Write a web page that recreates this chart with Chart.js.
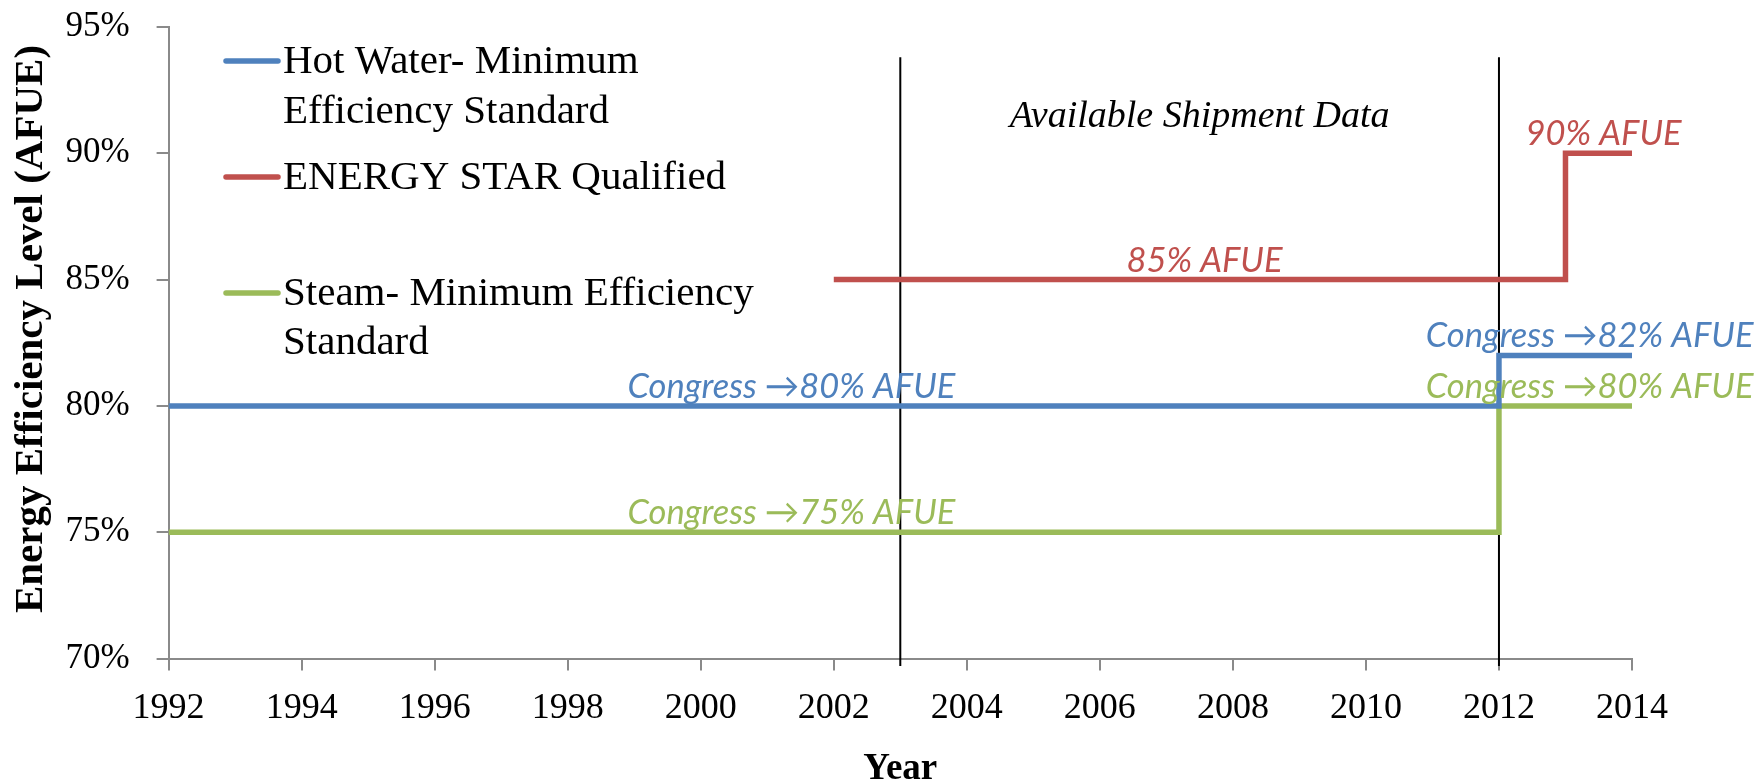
<!DOCTYPE html>
<html>
<head>
<meta charset="utf-8">
<title>Boiler AFUE levels</title>
<script src="https://cdn.jsdelivr.net/npm/chart.js@4.4.1/dist/chart.umd.min.js"></script>
<style>
  html, body { margin: 0; padding: 0; background: #fff; }
  #wrap { width: 1762px; height: 784px; position: relative; }
</style>
</head>
<body>
<div id="wrap"><canvas id="afueChart"></canvas></div>
<script>
// each series: years where a level starts (last one closes the line) and the level in % AFUE
const hotWaterYears = [1992, 2012, 2014];
const hotWaterLevels = [80, 82, 82];
const energyStarYears = [2002, 2013, 2014];
const energyStarLevels = [85, 90, 90];
const steamYears = [1992, 2012, 2014];
const steamLevels = [75, 80, 80];

const seriesNames = [
    ['Hot Water- Minimum', 'Efficiency Standard'],
    ['ENERGY STAR Qualified'],
    ['Steam- Minimum Efficiency', 'Standard']
];
const seriesColors = ['#4F81BD', '#C0504D', '#9BBB59'];

// window with shipment data (two vertical markers)
const shipmentYears = [2003, 2012];
const shipmentSpan = [93.8, 69.7];
const shipmentLabel = 'Available Shipment Data';
const shipmentLabelLevel = 91.05;

// level labels: text, start year, level of the line they sit on
const noteTexts = ['Congress \u219280% AFUE', 'Congress \u219275% AFUE', '85% AFUE', '90% AFUE', 'Congress \u219282% AFUE', 'Congress \u219280% AFUE'];
const noteYears = [1998.9, 1998.9, 2006.4, 2012.4, 2010.9, 2010.9];
const noteLevels = [80, 75, 85, 90, 82, 80];
const noteSeries = [0, 2, 1, 1, 0, 2];

const yTitle = 'Energy Efficiency Level (AFUE)';
const yMin = 70, yMax = 95, yStep = 5;
const xMin = 1992, xMax = 2014, xStep = 2;

const SERIF = "'Palatino Linotype', 'Book Antiqua', Palatino, 'Liberation Serif', serif";
const NOTE_FONT = "italic 34.5px Lato, 'Open Sans', sans-serif";

function toPoints(years, levels) {
    return years.map((y, i) => ({ x: y, y: levels[i] }));
}

// legend, axis title and labels drawn on the canvas
const notesPlugin = {
    id: 'notes',
    afterDatasetsDraw(chart) {
        const ctx = chart.ctx;
        const xs = chart.scales.x, ys = chart.scales.y;
        ctx.save();

        ctx.font = NOTE_FONT;
        ctx.textAlign = 'left';
        ctx.textBaseline = 'alphabetic';
        noteTexts.forEach((t, i) => {
            ctx.fillStyle = seriesColors[noteSeries[i]];
            ctx.fillText(t, xs.getPixelForValue(noteYears[i]), ys.getPixelForValue(noteLevels[i]) - 8);
        });

        ctx.fillStyle = '#000';
        ctx.font = 'italic 38px ' + SERIF;
        ctx.textAlign = 'center';
        const mid = (shipmentYears[0] + shipmentYears[1]) / 2;
        ctx.fillText(shipmentLabel, xs.getPixelForValue(mid), ys.getPixelForValue(shipmentLabelLevel));

        // y axis title
        ctx.save();
        ctx.translate(31, 329);
        ctx.rotate(-Math.PI / 2);
        ctx.font = 'bold 41px ' + SERIF;
        ctx.textBaseline = 'middle';
        ctx.fillText(yTitle, 0, 0);
        ctx.restore();

        // legend
        const rows = [[60, 110], [176], [292, 341]];
        ctx.font = '41px ' + SERIF;
        ctx.textAlign = 'left';
        ctx.textBaseline = 'middle';
        ctx.lineCap = 'round';
        seriesNames.forEach((lines, i) => {
            ctx.strokeStyle = seriesColors[i];
            ctx.lineWidth = 5.5;
            ctx.beginPath();
            ctx.moveTo(226, rows[i][0] + 1);
            ctx.lineTo(278, rows[i][0] + 1);
            ctx.stroke();
            lines.forEach((s, j) => ctx.fillText(s, 283, rows[i][j] + 2));
        });
        ctx.restore();
    }
};

const lineStyle = { stepped: 'before', borderWidth: 5.5, pointRadius: 0, fill: false, borderCapStyle: 'butt', borderJoinStyle: 'miter' };

const datasets = [
    { label: seriesNames[0].join(' '), data: toPoints(hotWaterYears, hotWaterLevels), borderColor: seriesColors[0], ...lineStyle },
    { label: seriesNames[1].join(' '), data: toPoints(energyStarYears, energyStarLevels), borderColor: seriesColors[1], ...lineStyle },
    { label: seriesNames[2].join(' '), data: toPoints(steamYears, steamLevels), borderColor: seriesColors[2], ...lineStyle }
];
shipmentYears.forEach(yr => {
    datasets.push({
        label: 'marker',
        data: [{ x: yr, y: shipmentSpan[0] }, { x: yr, y: shipmentSpan[1] }],
        borderColor: '#000', borderWidth: 2, pointRadius: 0, clip: false
    });
});

new Chart(document.getElementById('afueChart'), {
    type: 'line',
    data: { datasets },
    options: {
        responsive: true,
        maintainAspectRatio: false,
        animation: false,
        events: [],
        layout: { padding: { left: 0, right: 130, top: 27, bottom: 0 } },
        plugins: { legend: { display: false }, tooltip: { enabled: false } },
        scales: {
            x: {
                type: 'linear', min: xMin, max: xMax,
                afterFit: s => { s.height = 125.5; },
                ticks: { stepSize: xStep, color: '#000', padding: 16, font: { family: SERIF, size: 36 }, callback: v => String(v) },
                grid: { drawOnChartArea: false, drawTicks: true, tickLength: 12, color: '#8a8a8a', lineWidth: 2 },
                border: { color: '#8a8a8a', width: 2 },
                title: { display: true, text: 'Year', color: '#000', font: { family: SERIF, size: 37, weight: 'bold', lineHeight: 0.8 }, padding: { top: 0, bottom: 0 } }
            },
            y: {
                min: yMin, max: yMax,
                afterFit: s => { s.width = 168.6; s.paddingTop = 0; s.paddingBottom = 0; },
                ticks: { stepSize: yStep, color: '#000', padding: 27, font: { family: SERIF, size: 35 }, callback: v => v + '%' },
                grid: { drawOnChartArea: false, drawTicks: true, tickLength: 12, color: '#8a8a8a', lineWidth: 2 },
                border: { color: '#8a8a8a', width: 2 }
            }
        }
    },
    plugins: [notesPlugin]
});
</script>
</body>
</html>
